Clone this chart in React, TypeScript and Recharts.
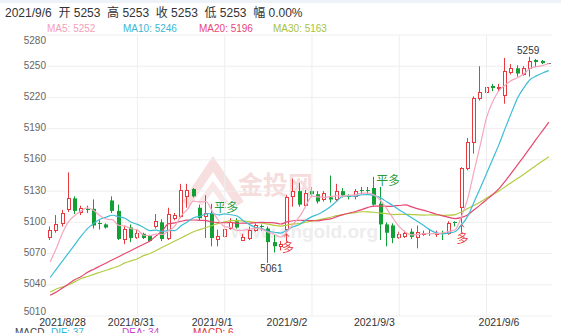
import React from "react";
import { ComposedChart, Bar, Line, XAxis, YAxis, CartesianGrid, ReferenceLine } from "recharts";

const FONT = "'Liberation Sans', Arial, 'Noto Sans CJK SC', sans-serif";
const CJK = "'Noto Sans CJK SC', 'Liberation Sans', sans-serif";
const UP = "#e8393f";
const DOWN = "#12a035";
const C5 = "#f5a6bf";
const C10 = "#3dbdd7";
const C20 = "#e6466f";
const C30 = "#b3cc42";

const opens = [5086, 5093, 5099, 5113, 5123, 5110, 5113, 5113, 5099, 5098, 5121, 5111, 5084, 5095, 5086, 5089, 5087, 5096, 5100, 5085, 5104, 5106, 5125, 5132, 5114, 5106, 5109, 5084, 5087, 5095, 5101, 5083, 5085, 5093, 5096, 5094, 5081, 5077, 5094, 5125, 5130, 5117, 5130, 5127, 5122, 5124, 5122, 5130, 5125, 5125, 5131, 5131, 5133, 5118, 5098, 5097, 5086, 5087, 5091, 5086, 5089, 5090, 5089, 5090, 5090, 5100, 5115, 5152, 5177, 5219, 5225, 5231, 5229, 5222, 5244, 5248, 5243, 5248, 5256, 5255, 5253];
const highs = [5096, 5107, 5112, 5148, 5125, 5116, 5116, 5122, 5102, 5099, 5125, 5117, 5097, 5098, 5093, 5090, 5088, 5108, 5103, 5114, 5109, 5137, 5137, 5133, 5117, 5126, 5110, 5093, 5099, 5104, 5104, 5089, 5096, 5099, 5098, 5096, 5088, 5082, 5126, 5142, 5138, 5131, 5134, 5130, 5130, 5145, 5137, 5133, 5127, 5132, 5134, 5134, 5136, 5134, 5100, 5099, 5091, 5092, 5094, 5097, 5092, 5093, 5092, 5092, 5101, 5101, 5153, 5181, 5221, 5250, 5231, 5233, 5233, 5258, 5252, 5251, 5250, 5259, 5257, 5256, 5253];
const lows = [5083, 5090, 5096, 5110, 5108, 5107, 5109, 5094, 5093, 5094, 5109, 5083, 5079, 5081, 5084, 5084, 5081, 5094, 5082, 5083, 5102, 5104, 5114, 5124, 5102, 5085, 5077, 5077, 5085, 5093, 5094, 5082, 5083, 5091, 5092, 5061, 5071, 5073, 5090, 5115, 5115, 5115, 5124, 5118, 5120, 5119, 5120, 5124, 5122, 5122, 5127, 5127, 5116, 5083, 5077, 5080, 5084, 5085, 5084, 5075, 5087, 5087, 5086, 5083, 5088, 5096, 5099, 5150, 5166, 5217, 5217, 5226, 5226, 5214, 5242, 5240, 5241, 5240, 5249, 5252, 5253];
const closes = [5093, 5098, 5109, 5123, 5111, 5114, 5112, 5097, 5098, 5095, 5111, 5084, 5094, 5085, 5090, 5085, 5082, 5101, 5084, 5108, 5107, 5131, 5131, 5125, 5104, 5109, 5085, 5087, 5094, 5100, 5095, 5086, 5093, 5097, 5095, 5081, 5077, 5079, 5124, 5130, 5117, 5128, 5127, 5120, 5128, 5122, 5130, 5126, 5124, 5130, 5130, 5130, 5117, 5098, 5090, 5085, 5089, 5090, 5086, 5091, 5090, 5089, 5090, 5089, 5099, 5099, 5152, 5177, 5219, 5225, 5230, 5229, 5230, 5245, 5248, 5243, 5248, 5255, 5254, 5253, 5253];

const ma5 = [5062, 5075, 5090, 5101, 5106.8, 5111, 5113.8, 5111.4, 5106.4, 5103.2, 5102.6, 5097, 5096.4, 5093.8, 5092.8, 5087.6, 5087.2, 5088.6, 5088.4, 5092, 5096.4, 5106.2, 5112.2, 5120.4, 5119.6, 5120, 5110.8, 5102, 5095.8, 5095, 5092.2, 5092.4, 5093.6, 5094.2, 5093.2, 5090.4, 5088.6, 5085.8, 5091.2, 5098.2, 5105.4, 5115.6, 5125.2, 5124.4, 5124, 5125, 5125.4, 5125.2, 5126, 5126.4, 5128, 5128, 5126.2, 5121, 5113, 5104, 5095.8, 5090.4, 5088, 5088.2, 5089.2, 5089.2, 5089.2, 5089.8, 5091.4, 5093.2, 5105.8, 5123.2, 5149.2, 5174.4, 5200.6, 5216, 5226.6, 5231.8, 5236.4, 5239, 5242.8, 5247.8, 5249.6, 5250.6, 5252.6];
const ma10 = [5047, 5055, 5063, 5071, 5079, 5087, 5094, 5099, 5103, 5105, 5106.8, 5105.4, 5103.9, 5100.1, 5098, 5095.1, 5092.1, 5092.5, 5091.1, 5092.4, 5092, 5096.7, 5100.4, 5104.4, 5105.8, 5108.2, 5108.5, 5107.1, 5108.1, 5107.3, 5106.1, 5101.6, 5097.8, 5095, 5094.1, 5091.3, 5090.5, 5089.7, 5092.7, 5095.7, 5097.9, 5102.1, 5105.5, 5107.8, 5111.1, 5115.2, 5120.5, 5125.2, 5125.2, 5125.2, 5126.5, 5126.7, 5125.7, 5123.5, 5119.7, 5116, 5111.9, 5108.3, 5104.5, 5100.6, 5096.6, 5092.5, 5089.8, 5088.9, 5089.8, 5091.2, 5097.5, 5106.2, 5119.5, 5132.9, 5146.9, 5160.9, 5174.9, 5190.5, 5205.4, 5219.8, 5229.4, 5237.2, 5240.7, 5243.5, 5245.8];
const ma20 = [5030, 5033, 5037, 5041, 5045, 5048, 5052, 5055, 5058, 5061, 5064, 5067, 5070, 5073, 5076, 5079, 5082, 5087, 5092, 5098.7, 5099.4, 5101.05, 5102.15, 5102.25, 5101.9, 5101.65, 5100.3, 5099.8, 5099.6, 5099.85, 5099.05, 5099.15, 5099.1, 5099.7, 5099.95, 5099.75, 5099.5, 5098.4, 5100.4, 5101.5, 5102, 5101.85, 5101.65, 5101.4, 5102.6, 5103.25, 5105.5, 5107.45, 5108.95, 5110.45, 5112.2, 5114.4, 5115.6, 5115.65, 5115.4, 5115.6, 5116.2, 5116.75, 5114.85, 5112.9, 5111.55, 5109.6, 5107.75, 5106.2, 5104.75, 5103.6, 5104.7, 5107.25, 5112, 5116.75, 5121.75, 5126.7, 5132.35, 5139.7, 5147.6, 5155.5, 5163.45, 5171.7, 5180.1, 5188.2, 5196.35];
const ma30 = [5033, 5036, 5038, 5040, 5043, 5046, 5048, 5050, 5052, 5054, 5056, 5058, 5061, 5063, 5065, 5068, 5070, 5073, 5076, 5079, 5082, 5085, 5088, 5091, 5093, 5095, 5097, 5099, 5100.5, 5101.57, 5101.63, 5101.23, 5100.7, 5099.83, 5099.3, 5098.2, 5097.03, 5096.43, 5097.3, 5098.47, 5098.67, 5100.13, 5101.23, 5102.4, 5103.67, 5104.9, 5106.5, 5107.33, 5108.67, 5109.4, 5110.17, 5110.13, 5109.67, 5108.77, 5108.3, 5107.5, 5107.63, 5107.73, 5107.47, 5107.17, 5107, 5107.1, 5107, 5106.73, 5106.87, 5107.47, 5109.97, 5113.23, 5116.4, 5119.57, 5123.33, 5126.7, 5130.13, 5134.3, 5138.3, 5142.33, 5146.27, 5150.57, 5154.9, 5159, 5163.1];

const yTicks = [5010, 5040, 5070, 5100, 5130, 5160, 5190, 5220, 5250, 5280];
const dayLabels = ["2021/8/28", "2021/8/31", "2021/9/1", "2021/9/2", "2021/9/3", "2021/9/6"];
const dayLabelIndex = [2, 13, 26, 38, 52, 72];
const gridIndex = [14, 28, 42, 56, 70];

const signalIndex = [26, 38, 52, 66];
const signalText = ["平多", "多", "平多", "多"];
const signalOpen = [false, true, false, true];

const legendNames = ["MA5", "MA10", "MA20", "MA30"];
const legendValues = [5252, 5246, 5196, 5163];
const legendColors = ["#f4a0b8", "#3ab8d4", "#e9457a", "#a8c23a"];

const headerText = "2021/9/6  开 5253  高 5253  收 5253  低 5253  幅 0.00%";
const macdNames = ["MACD", "DIF: 37", "DEA: 34", "MACD: 6"];
const macdColors = ["#444", "#2bb6d6", "#c845c8", "#e03535"];

const data = opens.map((o, i) => ({
  i,
  o,
  h: highs[i],
  l: lows[i],
  c: closes[i],
  ma5: ma5[i],
  ma10: ma10[i],
  ma20: ma20[i],
  ma30: ma30[i],
}));

const lowIdx = lows.indexOf(Math.min(...lows));
const highIdx = highs.indexOf(Math.max(...highs));

const Candle = (props: any) => {
  const { x, y, width, height, payload, index } = props;
  if (!payload || x == null) return null;
  const { o, h, l, c } = payload;
  const cx = x + width / 2;
  const top = Math.min(y, y + height);
  const H = Math.abs(height);
  const py = (v: number) => (h === l ? top : top + ((h - v) / (h - l)) * H);
  const up = c >= o;
  const a = Math.round(cx - 2);
  const wx = a + 1.5;
  const yH = py(h);
  const yL = py(l);
  const bTop = py(Math.max(o, c));
  const bBot = py(Math.min(o, c));
  const items: any[] = [];
  if (h === l) {
    items.push(<line key="d" x1={a} x2={a + 4} y1={Math.round(top) + 0.5} y2={Math.round(top) + 0.5} stroke="#777" strokeWidth={1} />);
  } else if (up) {
    const bt = Math.round(bTop) + 0.5;
    const bb = Math.max(Math.round(bBot) + 0.5, bt);
    items.push(<line key="w1" x1={wx} x2={wx} y1={yH} y2={bt} stroke={UP} strokeWidth={1} />);
    items.push(<line key="w2" x1={wx} x2={wx} y1={bb} y2={yL} stroke={UP} strokeWidth={1} />);
    if (bb - bt < 1) {
      items.push(<line key="b" x1={a} x2={a + 4} y1={bt} y2={bt} stroke={UP} strokeWidth={1} />);
    } else {
      items.push(<rect key="b" x={a + 0.5} y={bt} width={3} height={bb - bt} fill="#fff" stroke={UP} strokeWidth={1} />);
    }
  } else {
    items.push(<line key="w" x1={wx} x2={wx} y1={yH} y2={yL} stroke={DOWN} strokeWidth={1} />);
    const hgt = bBot - bTop;
    if (hgt < 1.2) {
      items.push(<line key="b" x1={a} x2={a + 4} y1={Math.round(bTop) + 0.5} y2={Math.round(bTop) + 0.5} stroke={DOWN} strokeWidth={1} />);
    } else {
      items.push(<rect key="b" x={a} y={bTop} width={4} height={hgt} fill={DOWN} />);
    }
  }
  const s = signalIndex.indexOf(index);
  if (s >= 0) {
    if (signalOpen[s]) {
      items.push(<line key="ar" x1={wx} x2={wx} y1={yL + 1} y2={yL + 9} stroke={UP} strokeWidth={1} />);
      items.push(<path key="ah" d={`M${wx - 2.5},${yL + 4} L${wx},${yL + 1} L${wx + 2.5},${yL + 4}`} stroke={UP} fill="none" strokeWidth={1} />);
      items.push(<text key="st" x={cx + 1} y={yL + 15} dy="0.35em" textAnchor="middle" fontSize={12} fill={UP} fontFamily={CJK}>{signalText[s]}</text>);
    } else {
      items.push(<line key="sl" x1={wx} x2={wx} y1={yH} y2={yH - 8} stroke={DOWN} strokeWidth={1} />);
      items.push(<text key="st" x={cx + 2} y={yH} textAnchor="start" fontSize={12} fill="#2b9a3c" fontFamily={CJK}>{signalText[s]}</text>);
    }
  }
  if (index === lowIdx) {
    items.push(<text key="lo" x={cx + 3} y={yL + 6} dy="0.35em" textAnchor="middle" fontSize={10} fill="#333" fontFamily={FONT}>{l}</text>);
  }
  if (index === highIdx) {
    items.push(<text key="hi" x={cx - 2} y={yH - 6} dy="0.35em" textAnchor="middle" fontSize={10} fill="#333" fontFamily={FONT}>{h}</text>);
  }
  return <g>{items}</g>;
};

const YTick = (props: any) => {
  const { x, y, payload } = props;
  const v = payload.value;
  const dy = v === yTicks[yTicks.length - 1] ? 5 : v === yTicks[0] ? -5 : -1;
  return (
    <text x={x} y={y + dy} dy="0.35em" textAnchor="end" fontSize={10} fill="#666" fontFamily={FONT}>
      {v}
    </text>
  );
};

const XTick = (props: any) => {
  const { x, payload } = props;
  const k = dayLabelIndex.indexOf(payload.value);
  if (k < 0) return null;
  return (
    <text x={x} y={322} dy="0.35em" textAnchor="middle" fontSize={10.5} fill="#333" fontFamily={FONT}>
      {dayLabels[k]}
    </text>
  );
};

const legendX = [47, 123, 199, 273];
const macdX = [15, 51, 122, 193];

export default function App() {
  return (
    <div style={{ position: "absolute", left: 0, top: 0, width: 561, height: 333, background: "#fff", overflow: "hidden" }}>
      <svg width={561} height={333} style={{ position: "absolute", left: 0, top: 0 }}>
        <rect x={0} y={0} width={561} height={3} fill="#eef2f9" />
        <text x={5} y={17} fontSize={12} fill="#333" fontFamily={FONT} style={{ whiteSpace: "pre" }}>{headerText}</text>
        {legendNames.map((n, k) => (
          <text key={n} x={legendX[k]} y={31.5} fontSize={10} fill={legendColors[k]} fontFamily={FONT}>
            {n}: {legendValues[k]}
          </text>
        ))}
        <g opacity={0.9}>
          <polyline points="186,204 213,164 240,204" fill="none" stroke="#f8dcdc" strokeWidth={9} />
          <polyline points="200,204 213,186 226,204" fill="none" stroke="#f9e4e4" strokeWidth={6} />
          <text x={238} y={194} fontSize={25} fontWeight="bold" fill="#f6dada" fontFamily={CJK}>金投网</text>
          <text x={378} y={238} textAnchor="end" fontSize={19} fontWeight="bold" fill="#ececec" fontFamily={FONT}>www.cngold.org</text>
        </g>
        {macdNames.map((n, k) => (
          <text key={k} x={macdX[k]} y={335.5} fontSize={10} fill={macdColors[k]} fontFamily={FONT}>
            {n}
          </text>
        ))}
      </svg>
      <div style={{ position: "absolute", left: 0, top: 0 }}>
        <ComposedChart width={561} height={333} data={data} margin={{ top: 35, right: 9, bottom: 0, left: 0 }}>
          <CartesianGrid vertical={false} stroke="#eeeeee" />
          {gridIndex.map((g) => (
            <ReferenceLine key={g} x={g} stroke="#eeeeee" />
          ))}
          <XAxis dataKey="i" type="category" ticks={dayLabelIndex} interval={0} tick={<XTick />} tickLine={false} axisLine={false} height={17} />
          <YAxis domain={[5010, 5280]} ticks={yTicks} tick={<YTick />} tickLine={false} axisLine={false} width={47} tickSize={0} tickMargin={1} allowDataOverflow />
          <Bar dataKey={(d: any) => [d.l, d.h]} shape={(p: any) => <Candle {...p} />} isAnimationActive={false} />
          <Line type="monotone" dataKey="ma30" stroke={C30} strokeWidth={1.2} dot={false} isAnimationActive={false} />
          <Line type="monotone" dataKey="ma20" stroke={C20} strokeWidth={1.2} dot={false} isAnimationActive={false} />
          <Line type="monotone" dataKey="ma10" stroke={C10} strokeWidth={1.2} dot={false} isAnimationActive={false} />
          <Line type="monotone" dataKey="ma5" stroke={C5} strokeWidth={1.2} dot={false} isAnimationActive={false} />
        </ComposedChart>
      </div>
    </div>
  );
}
